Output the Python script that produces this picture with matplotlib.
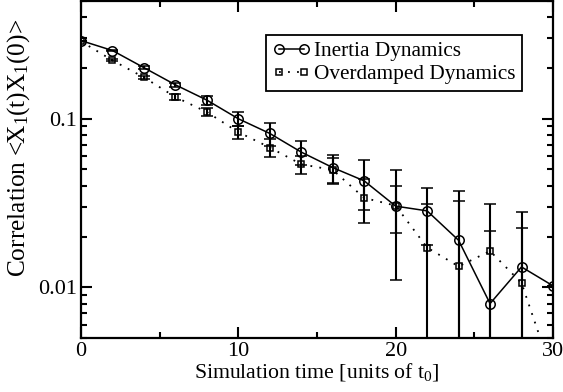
import numpy as np
import matplotlib
matplotlib.use('Agg')
import matplotlib.pyplot as plt
from matplotlib.lines import Line2D
from matplotlib.ticker import LogLocator, FixedLocator, FuncFormatter, NullFormatter

# simulation times (units of t0)
tiempo = [0, 2, 4, 6, 8, 10, 12, 14, 16, 18, 20, 22, 24, 26, 28, 30]

# correlation, inertia dynamics
inercia = [0.291, 0.254, 0.201, 0.159, 0.129, 0.100, 0.0818, 0.0634, 0.0513,
           0.0428, 0.0303, 0.0284, 0.0190, 0.0080, 0.0132, 0.0102]
inercia_err = [0.0, 0.003, 0.004, 0.005, 0.008, 0.009, 0.0125, 0.0099, 0.0098,
               0.0142, 0.0192, 0.0106, 0.0184, 0.0136, 0.0147, 0.0]

# correlation, overdamped dynamics
sobre = [0.288, 0.222, 0.176, 0.1346, 0.1096, 0.0833, 0.0675, 0.0537, 0.0497,
         0.0339, 0.0305, 0.0172, 0.0133, 0.0164, 0.0106, 0.003]
sobre_err = [0.0, 0.003, 0.004, 0.005, 0.006, 0.0076, 0.0084, 0.0068, 0.0087,
             0.0100, 0.0096, 0.0138, 0.0190, 0.0148, 0.0119, 0.0]

etiquetas = ['Inertia Dynamics', 'Overdamped Dynamics']

plt.rcParams['font.family'] = ['Liberation Serif', 'DejaVu Serif']
plt.rcParams['mathtext.fontset'] = 'custom'
plt.rcParams['mathtext.rm'] = 'Liberation Serif'
plt.rcParams['mathtext.it'] = 'Liberation Serif:italic'

fig = plt.figure(figsize=(5.63, 3.92), dpi=100)
ax = fig.add_axes([0.1439, 0.1378, 0.8383, 0.8597])

estilo_a = dict(color='black', lw=1.1, marker='o', ms=6.8, mfc='none',
                mec='black', mew=1.1)
estilo_b = dict(color='black', lw=1.3, ls=(0, (1, 4)), marker='s', ms=5,
                mfc='none', mec='black', mew=1.1)
barras = dict(ecolor='black', elinewidth=1.5, capsize=4, capthick=1.5)

ax.errorbar(tiempo, inercia, yerr=inercia_err, zorder=3, **estilo_a, **barras)
ax.errorbar(tiempo, sobre, yerr=sobre_err, zorder=2, **estilo_b, **barras)

ax.set_yscale('log')
ax.set_xlim(0, 30)
ax.set_ylim(0.005, 0.5)

ax.xaxis.set_major_locator(FixedLocator([0, 10, 20, 30]))
ax.xaxis.set_minor_locator(FixedLocator([5, 15, 25]))
ax.yaxis.set_major_locator(FixedLocator([0.01, 0.1]))
ax.yaxis.set_major_formatter(FuncFormatter(lambda v, p: '%g' % v))
ax.yaxis.set_minor_locator(LogLocator(base=10, subs=np.arange(2, 10)))
ax.yaxis.set_minor_formatter(NullFormatter())

ax.tick_params(which='both', direction='in', top=True, right=True,
               width=1.5, labelsize=16, pad=3)
ax.tick_params(which='major', length=8)
ax.tick_params(which='minor', length=4.5)
for s in ax.spines.values():
    s.set_linewidth(1.6)

ax.set_xlabel(r'Simulation time [units of t$_0$]', fontsize=15.7, labelpad=0)
ax.set_ylabel(r'Correlation <X$_1$(t)X$_1$(0)>', fontsize=18.3)
ax.yaxis.set_label_coords(-0.104, 0.565)

# legend shows only line + markers, no error bars
manijas = [Line2D([], [], **estilo_a), Line2D([], [], **estilo_b)]
leg = ax.legend(manijas, etiquetas, loc='upper right',
                bbox_to_anchor=(0.934, 0.899), fontsize=15.3, numpoints=2,
                handlelength=1.8, handletextpad=0.15, borderpad=0.3,
                labelspacing=0.15, borderaxespad=0, fancybox=False,
                framealpha=1, edgecolor='black')
leg.get_frame().set_linewidth(1.3)

fig.savefig('out.png', dpi=100)
plt.close(fig)
